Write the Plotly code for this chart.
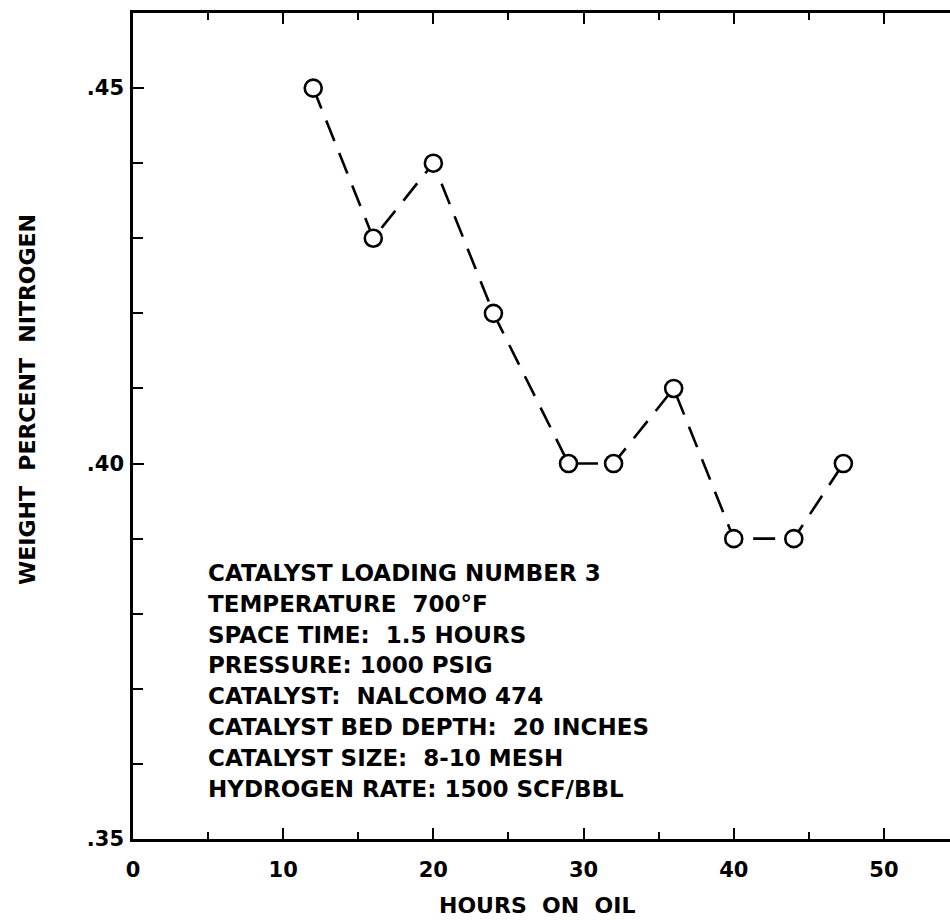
import plotly.graph_objects as go

# ---- data ----
hours = [12, 16, 20, 24, 29, 32, 36, 40, 44, 47.3]
nitrogen = [0.45, 0.43, 0.44, 0.42, 0.40, 0.40, 0.41, 0.39, 0.39, 0.40]

x_tick_vals = [0, 10, 20, 30, 40, 50]
x_tick_text = ["0", "10", "20", "30", "40", "50"]
y_tick_vals = [0.35, 0.40, 0.45]
y_tick_text = [".35", ".40", ".45"]

x_title = "HOURS  ON  OIL"
y_title = "WEIGHT  PERCENT  NITROGEN"

info_lines = [
    "CATALYST LOADING NUMBER 3",
    "TEMPERATURE  700°F",
    "SPACE TIME:  1.5 HOURS",
    "PRESSURE: 1000 PSIG",
    "CATALYST:  NALCOMO 474",
    "CATALYST BED DEPTH:  20 INCHES",
    "CATALYST SIZE:  8-10 MESH",
    "HYDROGEN RATE: 1500 SCF/BBL",
]

# ---- layout geometry (pixels) ----
W, H = 950, 920
L, R, T, B = 133, 0, 13, 81
plot_w = W - L - R
plot_h = H - T - B
FONT = "DejaVu Sans"

def px_to_paper_x(px):
    return (px - L) / plot_w

def py_to_paper_y(py):
    return (H - B - py) / plot_h

fig = go.Figure()
fig.add_trace(go.Scatter(
    x=hours, y=nitrogen,
    mode="lines+markers",
    line=dict(color="black", width=2.6, dash="22px,13px"),
    marker=dict(symbol="circle", size=17, color="white",
                line=dict(color="black", width=2.6)),
    showlegend=False,
))

annotations = []
for i, line in enumerate(info_lines):
    annotations.append(dict(
        text=line, xref="paper", yref="paper",
        x=px_to_paper_x(206), y=py_to_paper_y(573 + 30.8 * i),
        xanchor="left", yanchor="middle", showarrow=False,
        font=dict(family=FONT, size=23, color="black", weight="bold"),
    ))
annotations.append(dict(
    text=x_title, xref="paper", yref="paper",
    x=px_to_paper_x(537), y=py_to_paper_y(905),
    xanchor="center", yanchor="middle", showarrow=False,
    font=dict(family=FONT, size=22, color="black", weight="bold"),
))
annotations.append(dict(
    text=y_title, xref="paper", yref="paper",
    x=px_to_paper_x(27), y=py_to_paper_y(400),
    xanchor="center", yanchor="middle", showarrow=False, textangle=-90,
    font=dict(family=FONT, size=22, color="black", weight="bold"),
))

fig.update_layout(
    width=W, height=H,
    margin=dict(l=L, r=R, t=T, b=B, pad=0),
    paper_bgcolor="white", plot_bgcolor="white",
    annotations=annotations,
    font=dict(family=FONT, color="black"),
    xaxis=dict(
        range=[0, 54.4], tickvals=x_tick_vals, ticktext=x_tick_text,
        ticks="inside", ticklen=11, tickwidth=2, tickcolor="black",
        minor=dict(ticks="inside", ticklen=7, tickwidth=2, tickcolor="black", dtick=5, showgrid=False),
        showline=True, linecolor="black", linewidth=2.5, mirror="ticks",
        showgrid=False, zeroline=False,
        tickfont=dict(family=FONT, size=21, color="black", weight="bold"),
        ticklabelstandoff=10,
    ),
    yaxis=dict(
        range=[0.35, 0.46], tickvals=y_tick_vals, ticktext=y_tick_text,
        ticks="inside", ticklen=11, tickwidth=2, tickcolor="black",
        minor=dict(ticks="inside", ticklen=10, tickwidth=2, tickcolor="black", dtick=0.01, tick0=0.35, showgrid=False),
        showline=True, linecolor="black", linewidth=2.5, mirror=False,
        showgrid=False, zeroline=False,
        tickfont=dict(family=FONT, size=21, color="black", weight="bold"),
        ticklabelstandoff=2,
    ),
)

fig.write_html("out.html")
